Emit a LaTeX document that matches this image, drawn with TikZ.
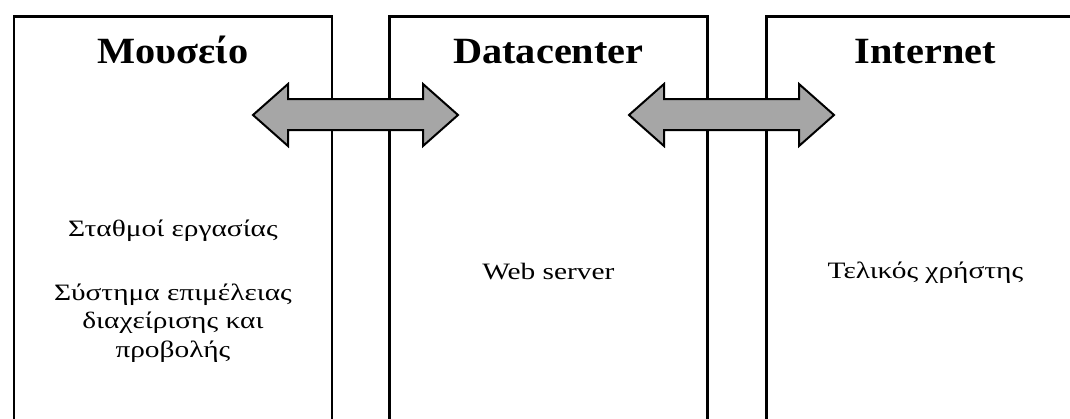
\documentclass[tikz,border=0pt]{standalone}
\usepackage{fontspec}
\setmainfont{Liberation Serif}
\newfontfamily\titlefont[FakeStretch=1.09]{Liberation Serif}
\newfontfamily\bodyfont[FakeStretch=1.25]{Liberation Serif}
\definecolor{arrowgray}{RGB}{166,166,166}
\begin{document}
\begin{tikzpicture}[x=1pt,y=-1pt]
	\tikzset{box/.style={draw,line width=2.8pt,minimum width=318pt,minimum height=440pt,anchor=north west,inner sep=0pt},
		link/.style={draw,line width=2pt,fill=arrowgray,line join=miter},
		title/.style={font=\titlefont\bfseries\fontsize{37}{40}\selectfont,anchor=base},
		label/.style={font=\bodyfont\fontsize{23.5}{28.5}\selectfont,align=center}}
	\useasboundingbox (0,0) rectangle (1070,418);
	\clip (0,0) rectangle (1070,418);
	% the three places
	\node(museum)[box] at (12.5,14.7){};
	\node(datacenter)[box] at (388,14.7){};
	\node(internet)[box] at (765,14.7){};
	% two way links
	\foreach \s in {0,376}{
		\draw[link,xshift=\s pt] (253,115) -- (288,84) -- (288,99) -- (423,99) -- (423,84) -- (458,115)
			-- (423,146) -- (423,130) -- (288,130) -- (288,146) -- cycle;
	}
	% titles
	\node(museum title)[title] at (museum.north |- 0,63){Μουσείο};
	\node(datacenter title)[title] at (datacenter.north |- 0,63){Datacenter};
	\node(internet title)[title] at (internet.north |- 0,63){Internet};
	% contents
	\node(stations)[label,anchor=base] at (museum.north |- 0,236){Σταθμοί εργασίας};
	\node(curation)[label] at (museum.north |- 0,323){Σύστημα επιμέλειας\\διαχείρισης και\\προβολής};
	\node(web)[label,anchor=base] at (datacenter.north |- 0,279){Web server};
	\node(user)[label,anchor=base] at (internet.north |- 0,278){Τελικός χρήστης};
\end{tikzpicture}
\end{document}
